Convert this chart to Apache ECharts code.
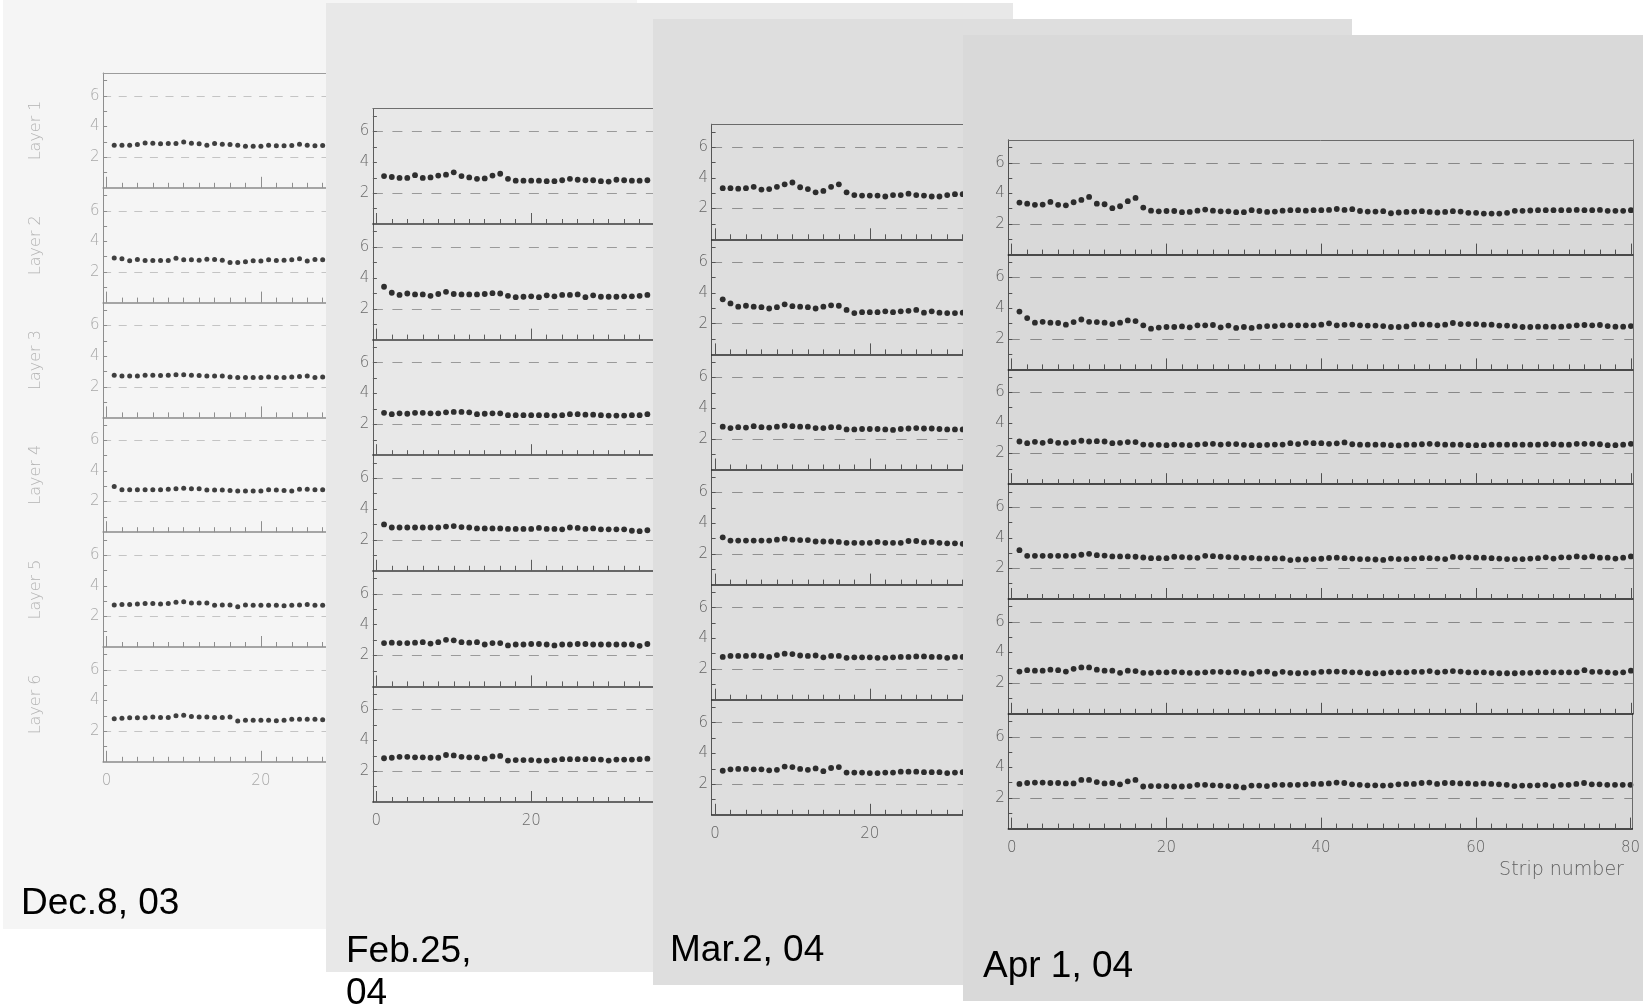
<!DOCTYPE html>
<html>
<head>
<meta charset="utf-8">
<script src="https://cdn.jsdelivr.net/npm/echarts@6/dist/echarts.min.js"></script>
<style>
html,body{margin:0;padding:0;background:#ffffff;}
#chart{width:1643px;height:1005px;}
</style>
</head>
<body>
<div id="chart"></div>
<script>
// ---------------- data ----------------
const layerNames = ['Layer 1', 'Layer 2', 'Layer 3', 'Layer 4', 'Layer 5', 'Layer 6'];
const dateLabels = ['Dec.8, 03', 'Feb.25,\n04', 'Mar.2, 04', 'Apr 1, 04'];
const xMajorTicks = [0, 20, 40, 60, 80];
const xMinorTicks = [2,4,6,8,10,12,14,16,18,22,24,26,28,30,32,34,36,38,42,44,46,48,50,52,54,56,58,62,64,66,68,70,72,74,76,78];
const yTickValues = [1, 2, 3, 4, 5, 6, 7];
const yLabelValues = [2, 4, 6];
const refLines = [2, 6];
const xAxisTitle = 'Strip number';

// Dec.8, 03 (strips 1..28 visible)
const dec8_L1 = [2.78,2.78,2.78,2.83,2.93,2.91,2.87,2.89,2.89,3.00,2.91,2.87,2.78,2.89,2.85,2.83,2.78,2.72,2.72,2.72,2.78,2.74,2.74,2.76,2.85,2.78,2.74,2.76];
const dec8_L2 = [2.92,2.86,2.73,2.82,2.75,2.75,2.75,2.75,2.90,2.80,2.80,2.77,2.84,2.82,2.77,2.62,2.62,2.67,2.73,2.71,2.80,2.75,2.77,2.80,2.86,2.71,2.82,2.80];
const dec8_L3 = [2.76,2.70,2.70,2.70,2.76,2.76,2.73,2.76,2.79,2.79,2.76,2.73,2.70,2.70,2.70,2.64,2.61,2.61,2.61,2.61,2.64,2.61,2.61,2.64,2.67,2.70,2.61,2.64];
const dec8_L4 = [2.99,2.78,2.78,2.78,2.78,2.78,2.78,2.81,2.84,2.87,2.84,2.84,2.75,2.75,2.75,2.72,2.69,2.69,2.69,2.69,2.78,2.75,2.72,2.69,2.81,2.81,2.78,2.78];
const dec8_L5 = [2.75,2.78,2.78,2.81,2.84,2.84,2.81,2.84,2.93,2.96,2.87,2.87,2.87,2.72,2.75,2.75,2.63,2.75,2.72,2.72,2.72,2.72,2.69,2.72,2.75,2.78,2.72,2.72];
const dec8_L6 = [2.81,2.84,2.87,2.87,2.87,2.93,2.90,2.90,3.01,3.04,2.96,2.93,2.93,2.90,2.90,2.93,2.66,2.72,2.72,2.72,2.72,2.69,2.72,2.78,2.78,2.78,2.78,2.75];

// Feb.25, 04 (strips 1..35 visible)
const feb25_L1 = [3.11,3.05,2.99,2.99,3.17,2.99,3.02,3.14,3.20,3.35,3.11,3.02,2.93,2.96,3.14,3.26,2.93,2.81,2.81,2.81,2.81,2.78,2.78,2.84,2.93,2.87,2.84,2.84,2.78,2.75,2.87,2.84,2.81,2.81,2.84];
const feb25_L2 = [3.43,3.04,2.90,2.99,2.93,2.93,2.84,2.96,3.10,2.96,2.93,2.93,2.93,2.96,3.01,2.99,2.84,2.75,2.78,2.81,2.75,2.87,2.81,2.90,2.90,2.93,2.75,2.87,2.78,2.78,2.78,2.81,2.81,2.84,2.90];
const feb25_L3 = [2.75,2.66,2.72,2.69,2.75,2.75,2.72,2.72,2.78,2.81,2.81,2.78,2.66,2.69,2.72,2.72,2.60,2.60,2.60,2.60,2.60,2.60,2.57,2.60,2.66,2.66,2.63,2.63,2.60,2.57,2.57,2.57,2.60,2.60,2.66];
const feb25_L4 = [3.01,2.81,2.81,2.81,2.81,2.81,2.81,2.81,2.87,2.90,2.84,2.81,2.75,2.75,2.75,2.75,2.72,2.72,2.72,2.72,2.78,2.72,2.72,2.69,2.81,2.78,2.72,2.75,2.69,2.69,2.69,2.69,2.60,2.57,2.63];
const feb25_L5 = [2.81,2.84,2.81,2.81,2.84,2.87,2.78,2.87,3.02,2.99,2.87,2.84,2.87,2.72,2.81,2.81,2.66,2.72,2.72,2.75,2.75,2.72,2.66,2.72,2.72,2.75,2.75,2.72,2.72,2.72,2.72,2.72,2.72,2.63,2.75];
const feb25_L6 = [2.84,2.87,2.93,2.93,2.90,2.90,2.87,2.87,3.05,3.02,2.93,2.90,2.90,2.81,2.96,2.99,2.69,2.72,2.72,2.72,2.69,2.69,2.72,2.78,2.78,2.78,2.78,2.78,2.75,2.69,2.75,2.75,2.75,2.78,2.81];

// Mar.2, 04 (strips 1..32 visible)
const mar2_L1 = [3.33,3.33,3.30,3.33,3.42,3.24,3.27,3.42,3.58,3.70,3.39,3.27,3.06,3.15,3.42,3.58,3.06,2.88,2.85,2.85,2.85,2.79,2.88,2.88,2.97,2.88,2.85,2.79,2.79,2.88,2.94,2.94];
const mar2_L2 = [3.59,3.32,3.11,3.17,3.11,3.08,2.99,3.08,3.26,3.14,3.11,3.08,2.99,3.11,3.20,3.17,2.90,2.69,2.75,2.75,2.75,2.81,2.75,2.81,2.84,2.90,2.72,2.81,2.72,2.69,2.69,2.72];
const mar2_L3 = [2.79,2.70,2.76,2.73,2.82,2.76,2.73,2.79,2.85,2.82,2.79,2.79,2.70,2.70,2.76,2.76,2.61,2.61,2.64,2.64,2.64,2.61,2.58,2.64,2.67,2.70,2.67,2.67,2.64,2.61,2.61,2.61];
const mar2_L4 = [3.08,2.87,2.87,2.87,2.87,2.87,2.87,2.93,2.99,2.93,2.90,2.90,2.81,2.81,2.81,2.78,2.72,2.72,2.72,2.72,2.78,2.72,2.72,2.72,2.84,2.84,2.75,2.78,2.72,2.69,2.69,2.66];
const mar2_L5 = [2.79,2.85,2.85,2.85,2.88,2.85,2.79,2.91,3.00,2.97,2.88,2.85,2.88,2.76,2.85,2.85,2.73,2.76,2.76,2.76,2.73,2.73,2.76,2.79,2.79,2.82,2.82,2.79,2.79,2.73,2.79,2.79];
const mar2_L6 = [2.87,2.96,2.99,2.99,2.96,2.96,2.90,2.93,3.14,3.11,2.99,2.93,3.02,2.84,3.05,3.11,2.75,2.75,2.75,2.72,2.72,2.75,2.75,2.81,2.81,2.81,2.78,2.78,2.78,2.72,2.75,2.78];

// Apr 1, 04 (strips 1..80)
const apr1_L1 = [3.40,3.33,3.25,3.27,3.44,3.25,3.22,3.42,3.57,3.77,3.33,3.29,3.03,3.16,3.49,3.70,3.07,2.87,2.83,2.85,2.85,2.77,2.79,2.87,2.94,2.87,2.83,2.83,2.77,2.77,2.90,2.85,2.79,2.81,2.87,2.90,2.90,2.87,2.90,2.90,2.92,2.98,2.92,2.97,2.85,2.81,2.81,2.84,2.70,2.75,2.79,2.81,2.84,2.79,2.75,2.79,2.84,2.81,2.73,2.73,2.68,2.68,2.68,2.73,2.86,2.86,2.88,2.90,2.90,2.90,2.90,2.90,2.92,2.90,2.90,2.92,2.86,2.86,2.86,2.90];
const apr1_L2 = [3.78,3.35,3.05,3.11,3.05,3.03,2.92,3.09,3.26,3.11,3.09,3.05,2.96,3.05,3.20,3.16,2.88,2.66,2.73,2.77,2.77,2.81,2.75,2.88,2.88,2.90,2.75,2.86,2.71,2.77,2.71,2.79,2.83,2.83,2.88,2.88,2.88,2.88,2.88,2.92,3.01,2.88,2.91,2.93,2.88,2.86,2.86,2.83,2.77,2.77,2.81,2.94,2.94,2.92,2.88,2.92,3.03,2.96,2.96,2.96,2.92,2.92,2.86,2.86,2.83,2.77,2.77,2.79,2.79,2.79,2.79,2.83,2.88,2.90,2.88,2.90,2.83,2.79,2.79,2.83];
const apr1_L3 = [2.79,2.68,2.77,2.70,2.81,2.70,2.70,2.75,2.84,2.79,2.81,2.79,2.68,2.70,2.75,2.75,2.59,2.57,2.57,2.55,2.59,2.57,2.55,2.59,2.62,2.64,2.59,2.62,2.62,2.57,2.55,2.55,2.57,2.59,2.59,2.68,2.62,2.70,2.68,2.68,2.64,2.67,2.73,2.61,2.58,2.58,2.58,2.58,2.55,2.53,2.58,2.58,2.61,2.64,2.61,2.58,2.58,2.58,2.55,2.55,2.55,2.58,2.58,2.58,2.58,2.58,2.58,2.58,2.61,2.61,2.58,2.58,2.64,2.64,2.64,2.61,2.55,2.55,2.58,2.64];
const apr1_L4 = [3.19,2.82,2.82,2.82,2.82,2.82,2.82,2.82,2.89,2.95,2.86,2.84,2.78,2.78,2.78,2.76,2.71,2.67,2.67,2.67,2.76,2.74,2.71,2.69,2.82,2.80,2.76,2.74,2.71,2.69,2.69,2.65,2.65,2.65,2.65,2.54,2.58,2.58,2.61,2.63,2.68,2.70,2.67,2.64,2.61,2.61,2.58,2.55,2.64,2.61,2.61,2.64,2.67,2.67,2.64,2.61,2.75,2.72,2.72,2.70,2.70,2.67,2.64,2.61,2.61,2.61,2.64,2.67,2.72,2.64,2.72,2.72,2.78,2.72,2.78,2.70,2.70,2.64,2.70,2.78];
const apr1_L5 = [2.76,2.85,2.82,2.82,2.88,2.85,2.76,2.94,3.03,3.03,2.88,2.82,2.82,2.68,2.82,2.79,2.68,2.68,2.71,2.71,2.74,2.71,2.68,2.68,2.71,2.74,2.74,2.71,2.74,2.68,2.62,2.74,2.76,2.62,2.74,2.68,2.65,2.68,2.68,2.74,2.76,2.76,2.74,2.71,2.71,2.65,2.65,2.65,2.71,2.71,2.71,2.74,2.74,2.79,2.71,2.76,2.79,2.76,2.71,2.71,2.71,2.68,2.65,2.65,2.65,2.68,2.68,2.71,2.71,2.71,2.71,2.71,2.71,2.85,2.74,2.74,2.71,2.68,2.71,2.82];
const apr1_L6 = [2.92,2.98,3.01,3.01,2.98,2.98,2.95,2.95,3.18,3.18,3.04,2.95,2.98,2.89,3.09,3.18,2.75,2.78,2.78,2.78,2.75,2.75,2.78,2.86,2.86,2.83,2.81,2.78,2.75,2.69,2.81,2.81,2.78,2.86,2.86,2.86,2.86,2.89,2.92,2.92,2.95,3.01,2.98,2.89,2.86,2.83,2.83,2.81,2.83,2.89,2.92,2.92,2.98,3.01,2.92,2.98,2.98,2.95,2.95,2.92,2.95,2.92,2.89,2.86,2.78,2.81,2.81,2.83,2.86,2.78,2.86,2.86,2.92,2.98,2.89,2.89,2.86,2.86,2.86,2.86];

// ---------------- layout / style ----------------
const panels = [
  { date: dateLabels[0], layers: [dec8_L1, dec8_L2, dec8_L3, dec8_L4, dec8_L5, dec8_L6],
    bg: '#f5f5f5', rect: [3, 0, 634, 929], x0: 106.5, unit: 7.72, top: 73, h: 114.8,
    dateX: 21, dateY: 904,
    ink: { axis: '#8e8e8e', sep: '#8a8a8a', border: '#9c9c9c', label: '#a8a8a8', dash: '#c4c4c4', dot: '#111111' },
    dotSize: 5, dashPat: [8, 7.6] },
  { date: dateLabels[1], layers: [feb25_L1, feb25_L2, feb25_L3, feb25_L4, feb25_L5, feb25_L6],
    bg: '#e8e8e8', rect: [326, 3, 687, 969], x0: 376.3, unit: 7.745, top: 108.4, h: 115.6,
    dateX: 346, dateY: 973,
    ink: { axis: '#5c5c5c', sep: '#3c3c3c', border: '#6e6e6e', label: '#6a6a6a', dash: '#9a9a9a', dot: '#000000' },
    dotSize: 5.8, dashPat: [10, 9.5] },
  { date: dateLabels[2], layers: [mar2_L1, mar2_L2, mar2_L3, mar2_L4, mar2_L5, mar2_L6],
    bg: '#dedede', rect: [653, 19, 699, 966], x0: 715, unit: 7.74, top: 124.2, h: 115.1,
    dateX: 670, dateY: 951,
    ink: { axis: '#555555', sep: '#2a2a2a', border: '#6a6a6a', label: '#656565', dash: '#909090', dot: '#000000' },
    dotSize: 5.8, dashPat: [10.5, 10] },
  { date: dateLabels[3], layers: [apr1_L1, apr1_L2, apr1_L3, apr1_L4, apr1_L5, apr1_L6],
    bg: '#d9d9d9', rect: [963, 35, 680, 966], x0: 1011.7, unit: 7.74, top: 139.8, h: 114.8,
    dateX: 983, dateY: 967,
    ink: { axis: '#505050', sep: '#1a1a1a', border: '#6a6a6a', label: '#606060', dash: '#888888', dot: '#000000' },
    dotSize: 5.8, dashPat: [11.5, 10.5] }
];
const X_MIN = -0.44, X_MAX = 80.25, Y_MIN = 0, Y_MAX = 7.5;
const tickFont = 'DejaVu Sans';

const option = {
  animation: false,
  backgroundColor: '#ffffff',
  grid: [], xAxis: [], yAxis: [], series: [],
  graphic: { elements: [] }
};

panels.forEach((p, pi) => {
  const zb = pi * 10;
  option.graphic.elements.push({
    type: 'rect', z: zb, silent: true,
    shape: { x: p.rect[0], y: p.rect[1], width: p.rect[2], height: p.rect[3] },
    style: { fill: p.bg }
  });
  option.graphic.elements.push({
    type: 'text', z: zb + 6, silent: true, x: p.dateX, y: p.dateY,
    style: { text: p.date, fontSize: 37, fontFamily: 'Liberation Sans', fill: '#000000',
             verticalAlign: 'middle', align: 'left', lineHeight: 42.5 }
  });
  p.layers.forEach((vals, li) => {
    const gi = option.grid.length;
    const last = li === p.layers.length - 1;
    option.grid.push({
      left: p.x0 + X_MIN * p.unit, top: p.top + li * p.h,
      width: (X_MAX - X_MIN) * p.unit, height: p.h
    });
    const majorIdx = option.xAxis.length;
    // major ticks + separator line + labels
    option.xAxis.push({
      gridIndex: gi, type: 'value', min: X_MIN, max: X_MAX, position: 'bottom', z: zb + 4,
      axisLine: { show: true, onZero: false, lineStyle: { color: p.ink.sep, width: 1.5 } },
      axisTick: { show: true, inside: true, length: 11, customValues: xMajorTicks, lineStyle: { color: p.ink.axis, width: 1 } },
      axisLabel: { show: last, customValues: xMajorTicks, margin: 12, color: p.ink.label, fontSize: 15, fontFamily: tickFont, fontWeight: 200 },
      splitLine: { show: false }
    });
    // minor ticks
    option.xAxis.push({
      gridIndex: gi, type: 'value', min: X_MIN, max: X_MAX, position: 'bottom', z: zb + 4,
      axisLine: { show: false, onZero: false },
      axisTick: { show: true, inside: true, length: 5, customValues: xMinorTicks, lineStyle: { color: p.ink.axis, width: 1 } },
      axisLabel: { show: false }, splitLine: { show: false }
    });
    if (li === 0) {
      option.xAxis.push({
        gridIndex: gi, type: 'value', min: X_MIN, max: X_MAX, position: 'top', z: zb + 4,
        axisLine: { show: true, onZero: false, lineStyle: { color: p.ink.border, width: 1 } },
        axisTick: { show: false }, axisLabel: { show: false }, splitLine: { show: false }
      });
    }
    const yIdx = option.yAxis.length;
    option.yAxis.push({
      gridIndex: gi, type: 'value', min: Y_MIN, max: Y_MAX, position: 'left', z: zb + 4,
      axisLine: { show: true, onZero: false, lineStyle: { color: p.ink.axis, width: 1 } },
      axisTick: { show: true, inside: true, length: 4, customValues: yTickValues, lineStyle: { color: p.ink.axis, width: 1 } },
      axisLabel: { show: true, customValues: yLabelValues, margin: 3.5, color: p.ink.label, fontSize: 15, fontFamily: tickFont, fontWeight: 200 },
      splitLine: { show: false },
      name: pi === 0 ? layerNames[li] : '', nameLocation: 'middle', nameGap: 59, nameRotate: 90,
      nameTextStyle: { color: '#b3b3b3', fontSize: 16, fontFamily: tickFont, fontWeight: 200 }
    });
    option.yAxis.push({
      gridIndex: gi, type: 'value', min: Y_MIN, max: Y_MAX, position: 'right', z: zb + 4,
      axisLine: { show: true, onZero: false, lineStyle: { color: p.ink.border, width: 1 } },
      axisTick: { show: false }, axisLabel: { show: false }, splitLine: { show: false }
    });
    option.series.push({
      type: 'scatter', xAxisIndex: majorIdx, yAxisIndex: yIdx, z: zb + 3,
      symbol: 'circle', symbolSize: p.dotSize, silent: true,
      itemStyle: { color: p.ink.dot },
      data: vals.map((v, i) => [i + 1, v]),
      markLine: {
        silent: true, symbol: 'none', z: zb + 2, animation: false,
        label: { show: false },
        lineStyle: { type: p.dashPat, color: p.ink.dash, width: 1 },
        data: refLines.map(v => ({ yAxis: v }))
      }
    });
  });
});

// x-axis title on the front panel
const fp = panels[3];
option.graphic.elements.push({
  type: 'text', z: 36, silent: true,
  x: fp.x0 + 79.1 * fp.unit, y: fp.top + 6 * fp.h + 41,
  style: { text: xAxisTitle, fontSize: 19, fontFamily: tickFont, fontWeight: 200, fill: '#606060', align: 'right', verticalAlign: 'middle' }
});

const chart = echarts.init(document.getElementById('chart'), null, { renderer: 'canvas' });
chart.setOption(option);
</script>
</body>
</html>
